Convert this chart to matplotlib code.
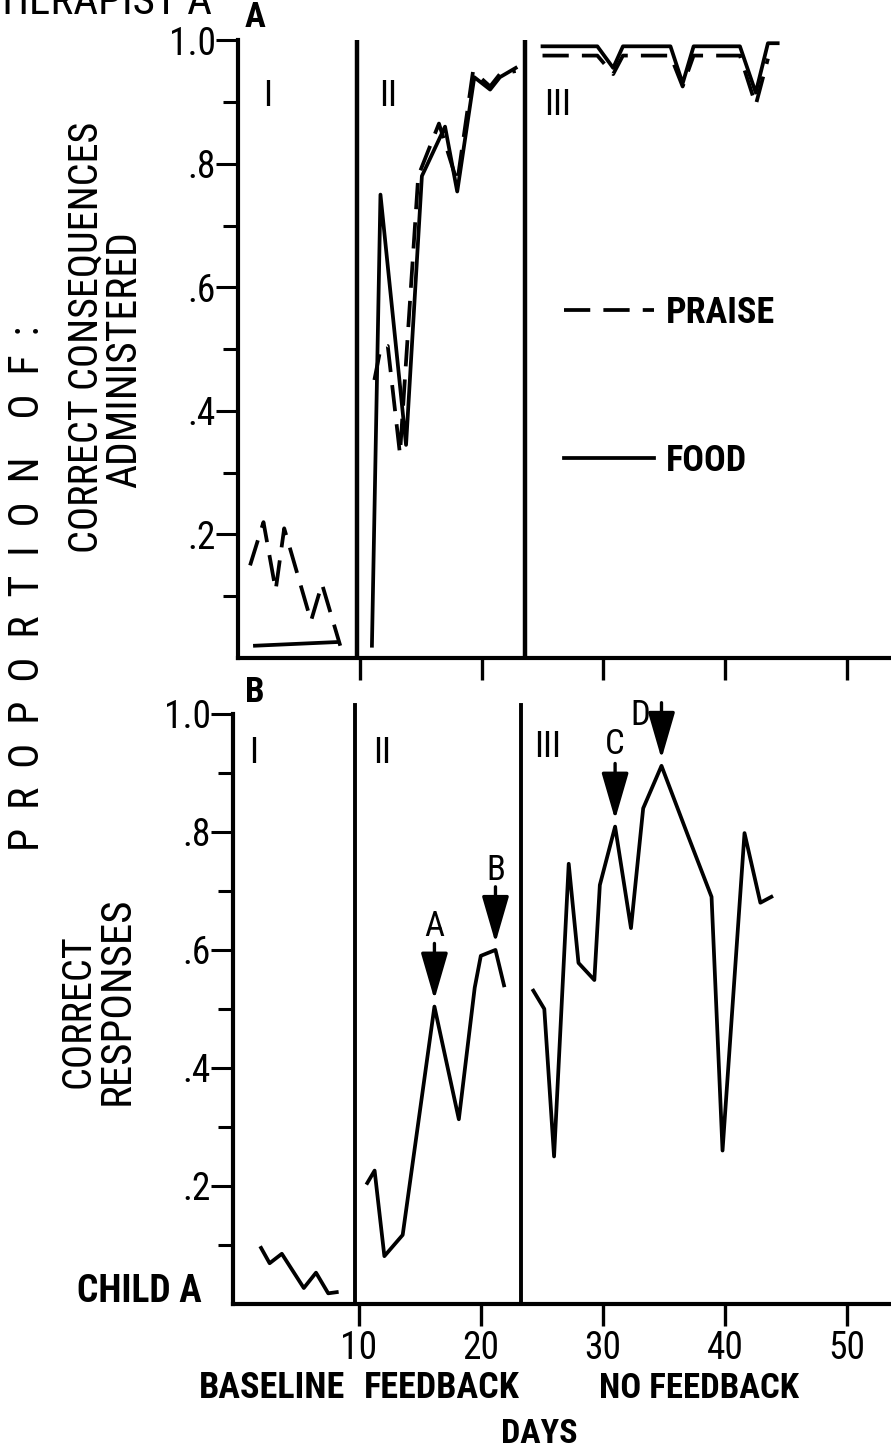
import matplotlib
matplotlib.use("Agg")
import matplotlib.pyplot as plt
from matplotlib.ticker import FixedLocator

plt.rcParams['font.family'] = ['Roboto Condensed', 'Liberation Sans Narrow', 'Roboto', 'DejaVu Sans']

# --- data (days, proportion) ---
# Therapist A, panel A
praise_I_days = [1.0, 2.1, 3.1, 3.8, 6.0, 6.9, 8.4]
praise_I_vals = [0.15, 0.22, 0.11, 0.21, 0.06, 0.12, 0.02]
food_I_days = [1.4, 8.2]
food_I_vals = [0.02, 0.026]

praise_II_days = [11.2, 11.7, 12.3, 13.3, 14.8, 16.5, 18.0, 19.3, 20.7, 21.5, 22.8]
praise_II_vals = [0.45, 0.50, 0.505, 0.33, 0.78, 0.865, 0.77, 0.95, 0.925, 0.945, 0.95]
food_II_days = [11.0, 11.7, 13.8, 15.1, 17.0, 18.0, 19.4, 20.7, 21.5, 22.8]
food_II_vals = [0.02, 0.75, 0.345, 0.78, 0.86, 0.755, 0.94, 0.92, 0.94, 0.955]

praise_III_days = [25.0, 29.5, 30.8, 31.6, 35.5, 36.5, 37.4, 41.2, 42.5, 43.5]
praise_III_vals = [0.975, 0.975, 0.945, 0.975, 0.975, 0.925, 0.975, 0.975, 0.895, 0.97]
food_III_days = [25.0, 29.5, 30.8, 31.6, 35.5, 36.5, 37.4, 41.2, 42.5, 43.5, 44.3]
food_III_vals = [0.99, 0.99, 0.955, 0.99, 0.99, 0.93, 0.99, 0.99, 0.915, 0.995, 0.995]

# Child A, panel B
child_I_days = [2.0, 2.7, 3.7, 5.5, 6.5, 7.5, 8.2]
child_I_vals = [0.095, 0.069, 0.085, 0.027, 0.053, 0.018, 0.02]
child_II_days = [10.7, 11.3, 12.1, 13.6, 16.2, 18.2, 19.5, 20.0, 21.2, 21.9]
child_II_vals = [0.205, 0.226, 0.081, 0.117, 0.504, 0.313, 0.536, 0.59, 0.60, 0.54]
child_III_days = [24.3, 25.2, 26.0, 27.2, 28.0, 29.3, 29.75, 31.0, 32.3, 33.3,
                  34.8, 37.0, 38.9, 39.8, 41.6, 42.9, 43.8]
child_III_vals = [0.531, 0.50, 0.25, 0.746, 0.578, 0.549, 0.71, 0.809, 0.637, 0.84,
                  0.912, 0.792, 0.69, 0.26, 0.798, 0.68, 0.69]

top_phase_days = [9.8, 23.6]
bottom_phase_days = [9.7, 23.3]

y_major = [0.2, 0.4, 0.6, 0.8, 1.0]
y_major_labels = ['.2', '.4', '.6', '.8', '1.0']
y_minor = [0.1, 0.3, 0.5, 0.7, 0.9]
x_major = [10, 20, 30, 40, 50]
x_major_labels = ['10', '20', '30', '40', '50']

LW = 2.7
DASH = (0, (7, 3.5))

fig = plt.figure(figsize=(8.91, 14.54), dpi=100)
ax1 = fig.add_axes([0.267, 0.5474, 0.733, 0.425])
ax2 = fig.add_axes([0.2615, 0.1032, 0.7385, 0.4058])


def style_axes(ax, x0):
    ax.set_xlim(x0, 53.6)
    ax.set_ylim(0, 1.0)
    for side in ('top', 'right'):
        ax.spines[side].set_visible(False)
    for side in ('left', 'bottom'):
        ax.spines[side].set_linewidth(3)
    ax.yaxis.set_major_locator(FixedLocator(y_major))
    ax.yaxis.set_minor_locator(FixedLocator(y_minor))
    ax.set_yticklabels(y_major_labels)
    ax.xaxis.set_major_locator(FixedLocator(x_major))
    ax.tick_params(axis='y', which='major', direction='out', length=16, width=2.2,
                   labelsize=27, pad=0)
    ax.tick_params(axis='y', which='minor', direction='out', length=11, width=2.2)
    ax.tick_params(axis='x', which='major', direction='out', length=16, width=2.4,
                   labelsize=27, pad=3)


# ---------------- top panel ----------------
style_axes(ax1, 0)
ax1.set_xticklabels([])
for d in top_phase_days:
    ax1.axvline(d, ymin=0, ymax=1.0, color='black', lw=3.2)

ax1.plot(praise_I_days, praise_I_vals, color='black', lw=LW, ls=DASH)
ax1.plot(food_I_days, food_I_vals, color='black', lw=LW)
ax1.plot(praise_II_days, praise_II_vals, color='black', lw=LW, ls=DASH, label='PRAISE')
ax1.plot(food_II_days, food_II_vals, color='black', lw=LW, label='FOOD')
ax1.plot(praise_III_days, praise_III_vals, color='black', lw=LW, ls=DASH, clip_on=False)
ax1.plot(food_III_days, food_III_vals, color='black', lw=LW, clip_on=False)

ax1.legend(loc='upper left', bbox_to_anchor=(0.499, 0.588), frameon=False,
           borderpad=0, borderaxespad=0,
           handlelength=2.5, handletextpad=0.33, labelspacing=3.1,
           prop={'size': 26, 'weight': 'bold'})

ax1.text(1.4, 1.037, 'A', fontsize=25, ha='center', va='center', clip_on=False,
         weight='bold')
ax1.text(2.4, 0.91, 'I', fontsize=26, ha='center', va='center')
ax1.text(12.3, 0.91, 'II', fontsize=26, ha='center', va='center')
ax1.text(26.2, 0.895, 'III', fontsize=26, ha='center', va='center')

# ---------------- bottom panel ----------------
style_axes(ax2, -0.3)
ax2.set_xticklabels(x_major_labels)
for d in bottom_phase_days:
    ax2.axvline(d, ymin=0, ymax=1.015, color='black', lw=2.8, clip_on=False)

ax2.plot(child_I_days, child_I_vals, color='black', lw=LW)
ax2.plot(child_II_days, child_II_vals, color='black', lw=LW)
ax2.plot(child_III_days, child_III_vals, color='black', lw=LW)

ax2.text(1.5, 1.037, 'B', fontsize=25, ha='center', va='center', clip_on=False,
         weight='bold')
ax2.text(1.35, 0.934, 'I', fontsize=26, ha='center', va='center')
ax2.text(11.9, 0.934, 'II', fontsize=26, ha='center', va='center')
ax2.text(25.5, 0.944, 'III', fontsize=26, ha='center', va='center')

# arrows marking probe days
arrow_marks = [('A', child_II_days[4], child_II_vals[4], 0.135),
               ('B', child_II_days[8], child_II_vals[8], 0.135),
               ('C', child_III_days[7], child_III_vals[7], 0.14),
               ('D', child_III_days[10], child_III_vals[10], 0.085)]
for lab, d, v, lab_off in arrow_marks:
    tip = v + 0.012
    ax2.annotate('', xy=(d, tip), xytext=(d, tip + 0.095),
                 arrowprops=dict(arrowstyle='-|>,head_length=1.45,head_width=0.42',
                                 color='black', lw=2.4, mutation_scale=20,
                                 shrinkA=0, shrinkB=0),
                 annotation_clip=False)
    if lab == 'D':
        ax2.text(d - 1.7, v + lab_off, lab, fontsize=25, ha='center', va='center',
                 clip_on=False)
    else:
        ax2.text(d, v + lab_off, lab, fontsize=25, ha='center', va='center')

# ---------------- labels ----------------
fig.text(0.238, 1 - 2 / 1454, 'THERAPIST A', fontsize=31, ha='right', va='center')
fig.text(0.031, 1 - 588 / 1454, 'P  R  O  P  O  R  T  I  O  N    O  F  :',
         fontsize=30, rotation=90, ha='center', va='center')
fig.text(0.0965, 1 - 337 / 1454, 'CORRECT CONSEQUENCES', fontsize=29,
         rotation=90, ha='center', va='center')
fig.text(0.14, 1 - 360 / 1454, 'ADMINISTERED', fontsize=30,
         rotation=90, ha='center', va='center')
fig.text(0.0875, 1 - 1011 / 1454, 'CORRECT', fontsize=29,
         rotation=90, ha='center', va='center')
fig.text(0.131, 1 - 1001 / 1454, 'RESPONSES', fontsize=31,
         rotation=90, ha='center', va='center')
fig.text(0.156, 1 - 1292 / 1454, 'CHILD A', fontsize=27, ha='center', va='center',
         weight='bold')
fig.text(0.2235, 1 - 1388 / 1454, 'BASELINE', fontsize=26, ha='left',
         va='center', weight='bold')
fig.text(0.5835, 1 - 1388 / 1454, 'FEEDBACK', fontsize=26, ha='right',
         va='center', weight='bold')
fig.text(0.785, 1 - 1388 / 1454, 'NO FEEDBACK', fontsize=25, ha='center',
         va='center', weight='bold')
fig.text(0.605, 1 - 1434 / 1454, 'DAYS', fontsize=24.5, ha='center', va='center',
         weight='bold')

fig.savefig('out.png', dpi=100, facecolor='white')
